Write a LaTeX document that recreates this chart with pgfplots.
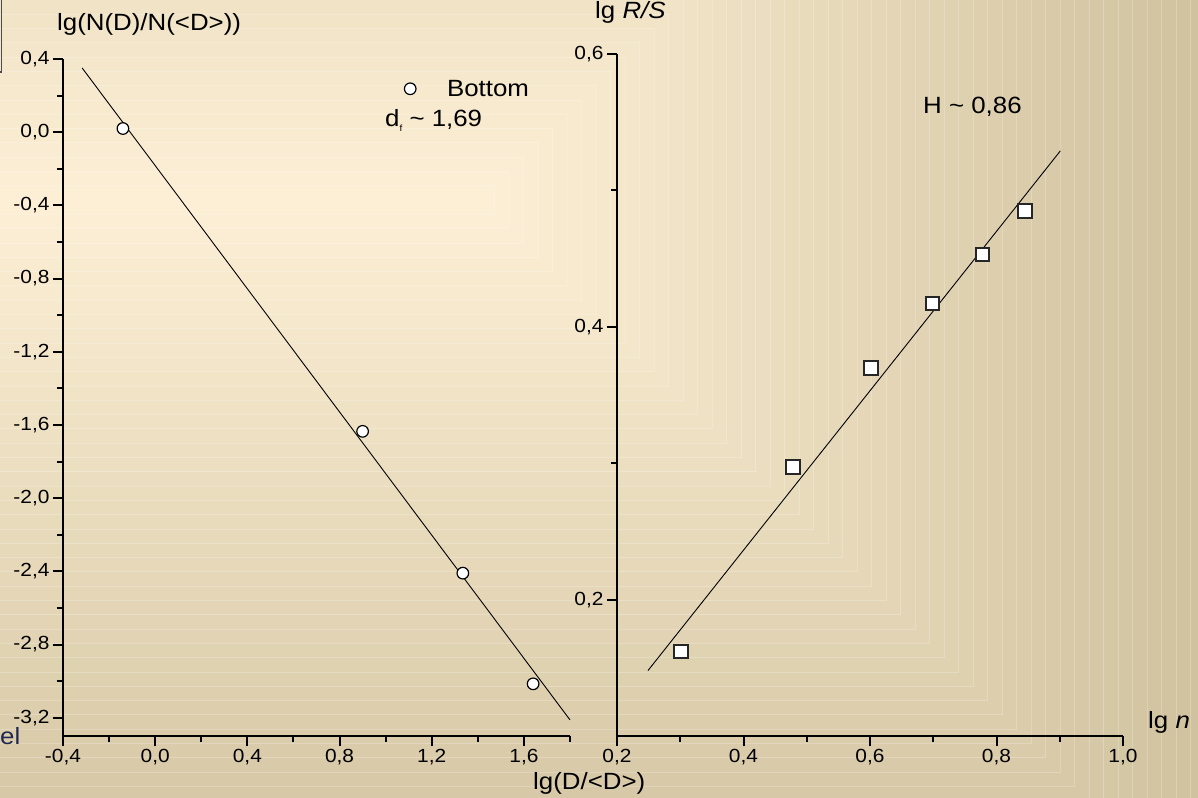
\documentclass[border=0pt]{standalone}
\usepackage{pgfplots}
\pgfplotsset{compat=1.18}
\usepackage{fontspec}
\setmainfont{Liberation Sans}[FakeStretch=1.1]

\newcommand\tickfont{\fontsize{19}{22}\selectfont}
\newcommand\labfont{\fontsize{23.5}{27}\selectfont}

\definecolor{bgA}{RGB}{253,240,214}
\definecolor{bgB}{RGB}{208,194,158}
\definecolor{navy}{RGB}{30,40,80}

\pgfplotsset{
  panel/.style={
    scale only axis,
    anchor=south west,
    axis x line*=bottom,
    axis y line*=left,
    axis line style={line width=2.2pt, -},
    tick align=outside,
    major tick length=10pt,
    minor tick length=6pt,
    tick style={line width=2pt, black},
    ticklabel style={font=\tickfont},
    /pgf/number format/.cd, use comma, fixed, fixed zerofill, precision=1,
      assume math mode=true,
    /pgfplots/.cd,
    clip=false,
  },
}

\begin{document}
\begin{tikzpicture}[x=1pt,y=1pt]
\useasboundingbox (0,0) rectangle (1198,797);

% rectangular gradient background with faint band edges
\begin{scope}
  \clip (0,0) rectangle (1198,797);
  \fill[bgB] (0,0) rectangle (1198,797);
  \foreach \k in {50,49,...,1}{
    \pgfmathtruncatemacro\p{2*\k}
    \filldraw[fill=bgB!\p!bgA, draw=white, draw opacity=0.22, line width=0.7pt]
      (-20, 597-14.3*\k) rectangle (480+14.5*\k, 597+14.3*\k);
  }
  % frame corner at the top left
  \draw[black!70, line width=1.2pt] (1.5,800) -- (1.5,725) -- (-2,725);
\end{scope}

% left panel: size distribution
\begin{axis}[panel,
  at={(63pt,61pt)}, width=507pt, height=677pt,
  xmin=-0.4, xmax=1.8, ymin=-3.3, ymax=0.4,
  xtick={-0.4,0,0.4,0.8,1.2,1.6},
  minor xtick={-0.2,0.2,0.6,1.0,1.4,1.8},
  ytick={-3.2,-2.8,-2.4,-2,-1.6,-1.2,-0.8,-0.4,0,0.4},
  minor ytick={-3.0,-2.6,-2.2,-1.8,-1.4,-1.0,-0.6,-0.2,0.2},
  legend style={draw=none, fill=none, font=\labfont,
    at={(0.673,0.956)}, anchor=west, inner sep=0pt,
    /tikz/every odd column/.append style={column sep=29pt}},
  legend image code/.code={\draw[#1] plot coordinates {(0pt,0pt)};},
]
\addplot[only marks, mark=*, mark size=5.8pt,
  mark options={fill=white, draw=black, line width=1.2pt}]
  coordinates {(-0.14,0.02) (0.90,-1.635) (1.335,-2.41) (1.64,-3.015)};
\addlegendentry{Bottom}
\addplot[black, line width=0.9pt, no marks, forget plot]
  coordinates {(-0.317,0.351) (1.8,-3.212)};
\end{axis}

% right panel: R/S analysis
\begin{axis}[panel,
  at={(617pt,61pt)}, width=506pt, height=682pt,
  xmin=0.2, xmax=1.0, ymin=0.1, ymax=0.6,
  xtick={0.2,0.4,0.6,0.8,1.0},
  minor xtick={0.3,0.5,0.7,0.9},
  ytick={0.2,0.4,0.6},
  minor ytick={0.3,0.5},
]
\addplot[black, line width=0.9pt, no marks]
  coordinates {(0.249,0.148) (0.901,0.529)};
\addplot[only marks, mark=square*, mark size=6.8pt,
  mark options={fill=white, draw=black!85, line width=2pt}]
  coordinates {(0.301,0.162) (0.478,0.297) (0.602,0.370)
               (0.699,0.417) (0.778,0.453) (0.845,0.485)};
\end{axis}

% axis titles and annotations
\node[anchor=base west, inner sep=0pt, font=\labfont] at (57,766) {lg(N(D)/N(<D>))};
\node[anchor=base west, inner sep=0pt, font=\labfont] at (595,778) {lg \textit{R/S}};
\node[anchor=base west, inner sep=0pt, font=\labfont] at (1148,68) {lg \textit{n}};
\node[anchor=base west, inner sep=0pt, font=\labfont] at (533,8) {lg(D/<D>)};
\node[anchor=base west, inner sep=0pt, font=\labfont] at (385,670)
  {d\raisebox{-5pt}{\fontsize{9}{9}\selectfont f} \textasciitilde{} 1,69};
\node[anchor=base west, inner sep=0pt, font=\labfont] at (923,683) {H \textasciitilde{} 0,86};
\node[anchor=base west, inner sep=0pt, font=\labfont, text=navy] at (0,52) {el};
\end{tikzpicture}
\end{document}
